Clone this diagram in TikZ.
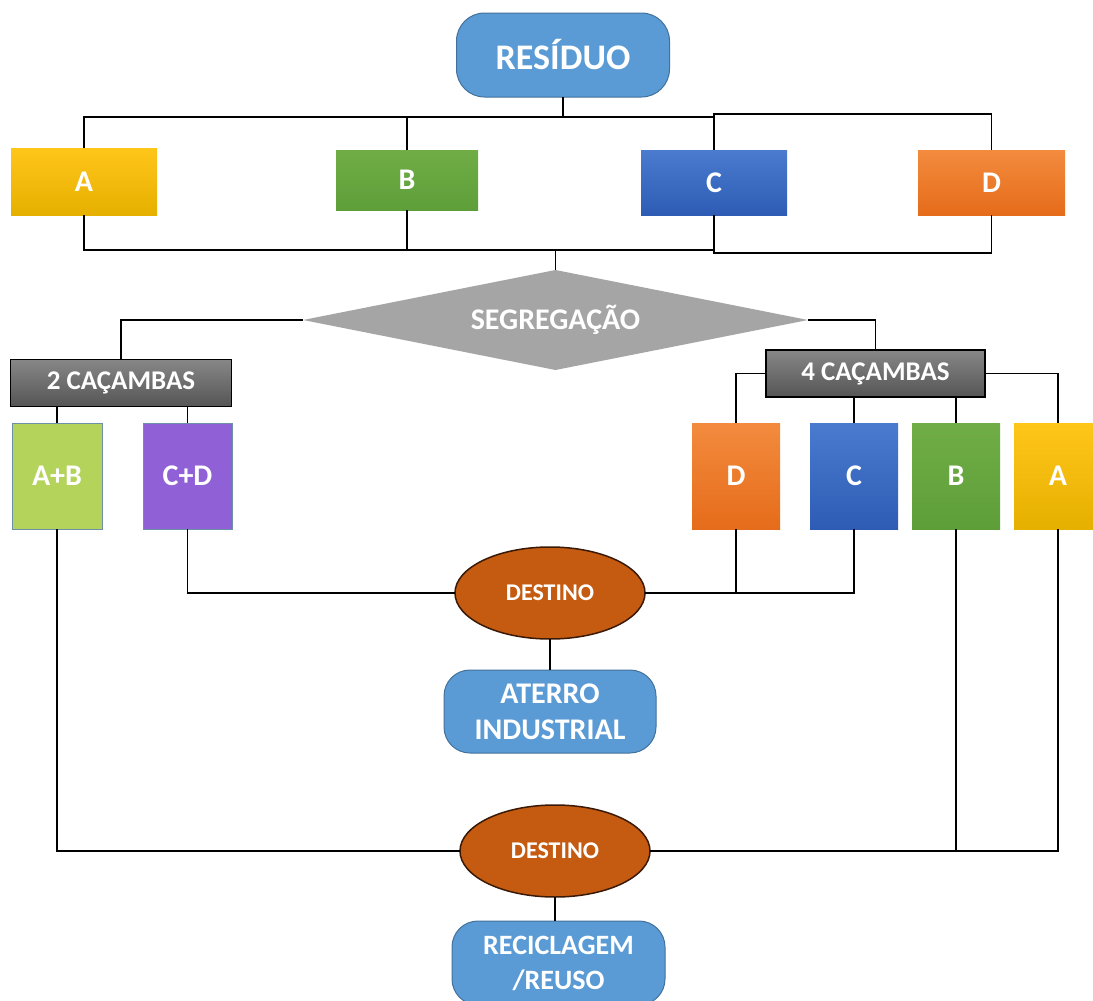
\documentclass[tikz,border=0pt]{standalone}
\usepackage{fontspec}
\setmainfont{Carlito}
\usetikzlibrary{shapes.geometric}
\definecolor{termblue}{HTML}{5B9BD5}
\definecolor{termedge}{HTML}{41719C}
\definecolor{yelA}{HTML}{FFC61A}
\definecolor{yelB}{HTML}{E6B000}
\definecolor{grnB}{HTML}{70AD47}
\definecolor{grnB2}{HTML}{5E9E38}
\definecolor{bluC}{HTML}{4A7BCF}
\definecolor{bluC2}{HTML}{2E5CB5}
\definecolor{orD}{HTML}{F38B3E}
\definecolor{orD2}{HTML}{E56C1A}
\definecolor{grayA}{HTML}{878787}
\definecolor{grayB}{HTML}{555555}
\definecolor{segray}{HTML}{A5A5A5}
\definecolor{lgreen}{HTML}{B3D35B}
\definecolor{purp}{HTML}{9060D6}
\definecolor{smalledge}{HTML}{6D8FA8}
\definecolor{destfill}{HTML}{C55A11}
\definecolor{destedge}{HTML}{3A1A06}
\begin{document}
\begin{tikzpicture}[x=1pt,y=-1pt,
  conn/.style={draw=black,line width=1.2pt},
  lbl/.style={text=white,font=\bfseries,inner sep=0pt,outer sep=0pt,align=center},
  term/.style={lbl,fill=termblue,draw=termedge,line width=1pt,rounded corners=28pt},
  catbox/.style={lbl,font=\bfseries\fontsize{30}{34}\selectfont},
  cacbox/.style={lbl,top color=grayA,bottom color=grayB,draw=black,line width=1.5pt,
     font=\bfseries\fontsize{27}{30}\selectfont,minimum width=220pt,minimum height=47pt},
  tallbox/.style={catbox,minimum width=88pt,minimum height=106pt},
  dest/.style={lbl,ellipse,fill=destfill,draw=destedge,line width=1.5pt,
     minimum width=190pt,minimum height=92pt,font=\bfseries\fontsize{24}{28}\selectfont}
]
\useasboundingbox (0,0) rectangle (1093,1001);
\clip (0,0) rectangle (1093,1001);

% top level
\node[term,minimum width=213pt,minimum height=84pt,font=\bfseries\fontsize{36}{40}\selectfont] (res) at (563,55) {RESÍDUO};
\node[catbox,top color=yelA,bottom color=yelB,minimum width=146pt,minimum height=67pt] (A) at (84,181.5) {A};
\node[catbox,top color=grnB,bottom color=grnB2,minimum width=142pt,minimum height=60pt] (B) at (407,180) {B};
\node[catbox,top color=bluC,bottom color=bluC2,minimum width=146pt,minimum height=65pt] (C) at (714,182.5) {C};
\node[catbox,top color=orD,bottom color=orD2,minimum width=147pt,minimum height=65pt] (D) at (991.5,182.5) {D};

\coordinate (tl) at (84,117);
\coordinate (tr) at (714,117);
\coordinate (tr2) at (714,114);
\coordinate (bl) at (84,250);
\coordinate (br) at (714,250);
\coordinate (br2) at (714,253);

\draw[conn] (res.south) -- (res.south |- tl);
\draw[conn] (A.north) -- (tl) -- (tr) -- (C.north);
\draw[conn] (B.north) -- (B.north |- tl);
\draw[conn] (tr) -- (tr2) -| (D.north);
\draw[conn] (A.south) -- (bl) -- (br) -- (C.south);
\draw[conn] (B.south) -- (B.south |- bl);
\draw[conn] (br) -- (br2) -| (D.south);

% segregacao
\node[lbl,diamond,shape aspect=5.05,fill=segray,minimum width=505pt,minimum height=100pt,
  font=\bfseries\fontsize{30}{34}\selectfont] (seg) at (555.5,320) {SEGREGAÇÃO};
\draw[conn] (seg.north) -- (seg.north |- bl);

\node[cacbox,minimum width=221pt] (c2) at (121,383) {2 CAÇAMBAS};
\node[cacbox,minimum width=219pt] (c4) at (875.5,373.5) {4 CAÇAMBAS};
\draw[conn] (seg.west) -| (c2.north);
\draw[conn] (seg.east) -| (c4.north);

% two-bin branch
\node[tallbox,fill=lgreen,draw=smalledge,line width=0.8pt,minimum width=90pt] (AB) at (57,476) {A+B};
\node[tallbox,fill=purp,draw=smalledge,line width=0.8pt,minimum width=89pt] (CD) at (187.5,476) {C+D};
\draw[conn] (AB.north) -- (AB.north |- c2.south);
\draw[conn] (CD.north) -- (CD.north |- c2.south);

% four-bin branch
\node[tallbox,top color=orD,bottom color=orD2] (D4) at (736,476) {D};
\node[tallbox,top color=bluC,bottom color=bluC2] (C4) at (854,476) {C};
\node[tallbox,top color=grnB,bottom color=grnB2] (B4) at (956,476) {B};
\node[tallbox,top color=yelA,bottom color=yelB] (A4) at (1058,476) {A};
\draw[conn] (c4.west) -| (D4.north);
\draw[conn] (c4.east) -| (A4.north);
\draw[conn] (C4.north) -- (C4.north |- c4.south);
\draw[conn] (B4.north) -- (B4.north |- c4.south);

% destino 1
\node[dest] (d1) at (550,593) {DESTINO};
\draw[conn] (CD.south) |- (d1.west);
\draw[conn] (d1.east) -| (C4.south);
\draw[conn] (D4.south) -- (D4.south |- d1.east);
\node[term,minimum width=212pt,minimum height=83pt,rounded corners=26pt,
  font=\bfseries\fontsize{30}{36}\selectfont] (at) at (550,711.5) {ATERRO\\INDUSTRIAL};
\draw[conn] (d1.south) -- (at.north);

% destino 2
\node[dest] (d2) at (555,851) {DESTINO};
\draw[conn] (AB.south) |- (d2.west);
\draw[conn] (d2.east) -| (A4.south);
\draw[conn] (B4.south) -- (B4.south |- d2.east);
\node[term,minimum width=213pt,minimum height=84pt,rounded corners=26pt,
  font=\bfseries\fontsize{28}{35}\selectfont] (rec) at (558.5,963) {RECICLAGEM\\/REUSO};
\draw[conn] (d2.south) -- (d2.south |- rec.north);
\end{tikzpicture}
\end{document}
